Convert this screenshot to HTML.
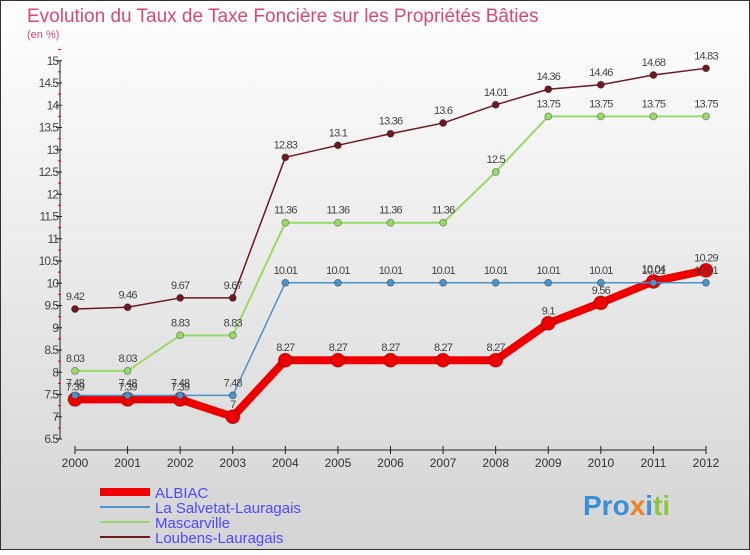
<!DOCTYPE html>
<html><head><meta charset="utf-8"><style>
body{margin:0;width:750px;height:550px;overflow:hidden;font-family:"Liberation Sans",sans-serif}
</style></head><body>
<svg width="750" height="550" xmlns="http://www.w3.org/2000/svg">
<defs><linearGradient id="bg" x1="0" y1="0" x2="0" y2="1"><stop offset="0" stop-color="#ffffff"/><stop offset="1" stop-color="#d4d4d4"/></linearGradient></defs>
<rect x="0.5" y="0.5" width="749" height="549" fill="url(#bg)" stroke="#333"/>
<text x="27" y="22" font-size="19" fill="#d9477a">Evolution du Taux de Taxe Foncière sur les Propriétés Bâties</text>
<text x="27" y="38" font-size="11" fill="#d9477a">(en %)</text>
<g id="axes"></g><g id="series"></g><g id="legend"></g>
<text x="583" y="515" font-size="28" font-weight="bold"><tspan fill="#3a8fd8">Pro</tspan><tspan fill="#f08020">x</tspan><tspan fill="#3a8fd8">i</tspan><tspan fill="#8cc63f">ti</tspan></text>
</svg>
<script>
const years=[2000,2001,2002,2003,2004,2005,2006,2007,2008,2009,2010,2011,2012];
const yTicks=[6.5,7,7.5,8,8.5,9,9.5,10,10.5,11,11.5,12,12.5,13,13.5,14,14.5,15];
const albiac=[7.39,7.39,7.39,7.0,8.27,8.27,8.27,8.27,8.27,9.1,9.56,10.04,10.29];
const salvetat=[7.48,7.48,7.48,7.48,10.01,10.01,10.01,10.01,10.01,10.01,10.01,10.01,10.01];
const mascarville=[8.03,8.03,8.83,8.83,11.36,11.36,11.36,11.36,12.5,13.75,13.75,13.75,13.75];
const loubens=[9.42,9.46,9.67,9.67,12.83,13.1,13.36,13.6,14.01,14.36,14.46,14.68,14.83];
const NS="http://www.w3.org/2000/svg";
const X=i=>75+i*(706-75)/(years.length-1);
const Y=v=>439-(v-6.5)*44.5;
function mk(t,a,p){const e=document.createElementNS(NS,t);for(const k in a)e.setAttribute(k,a[k]);p.appendChild(e);return e;}
const ax=document.getElementById('axes');
let l=mk('line',{x1:60,y1:Y(15),x2:60,y2:Y(6.5),stroke:'#222'},ax);


yTicks.forEach(v=>{
 const t=mk('line',{x1:56,y1:Y(v),x2:62,y2:Y(v),stroke:'#222'},ax);
 
 
 const m=mk('line',{x1:58,y1:Y(v+0.25),x2:61,y2:Y(v+0.25),stroke:'#e00'},ax);
 
 
 const tx=mk('text',{x:58,y:Y(v)+4,'font-size':12,fill:'#444','text-anchor':'end','letter-spacing':'-1'},ax);
 tx.textContent=String(v);
 
 
});
const xa=mk('line',{x1:X(0),y1:450,x2:X(12),y2:450,stroke:'#222'},ax);


years.forEach((yr,i)=>{
 const t=mk('line',{x1:X(i),y1:446,x2:X(i),y2:454,stroke:'#222'},ax);
 
 
 const tx=mk('text',{x:X(i),y:467,'font-size':12,fill:'#333','text-anchor':'middle'},ax);
 tx.textContent=yr;
 
 
});
const S=document.getElementById('series');
function series(vals,color,w,r,name){
 const g=mk('g',{},S);
 
 
 const pl=mk('polyline',{points:vals.map((v,i)=>X(i)+','+Y(v)).join(' '),fill:'none',stroke:color,'stroke-width':w,'stroke-linejoin':'round'},g);
 
 
 vals.forEach((v,i)=>{
  const c=mk('circle',{cx:X(i),cy:Y(v),r:r,fill:color,stroke:'rgba(0,0,0,0.3)','stroke-width':1},g);
  
  
  const t=mk('text',{x:X(i),y:Y(v)-9,'font-size':11,fill:'#444','text-anchor':'middle','letter-spacing':'-0.8'},g);
  t.textContent=String(v);
  
  
 });
}
series(loubens,'#6b1a1f',1.5,3.5,'loubens-lauragais');
series(mascarville,'#99d86b',2,3.5,'mascarville');
series(albiac,'#ee0000',8,7,'albiac');
series(salvetat,'#4d92c8',1.5,3.5,'la-salvetat-lauragais');
const L=document.getElementById('legend');
[['ALBIAC','#ee0000',8],['La Salvetat-Lauragais','#4d92c8',2],['Mascarville','#99d86b',2],['Loubens-Lauragais','#6b1a1f',2]].forEach((e,i)=>{
 const y=492+i*15;
 const ln=mk('line',{x1:100,y1:y,x2:150,y2:y,stroke:e[1],'stroke-width':e[2]},L);
 
 
 const t=mk('text',{x:155,y:y+6,'font-size':15,fill:'#4b4bff'},L);
 t.textContent=e[0];
 
 
});
</script>
</body></html>
